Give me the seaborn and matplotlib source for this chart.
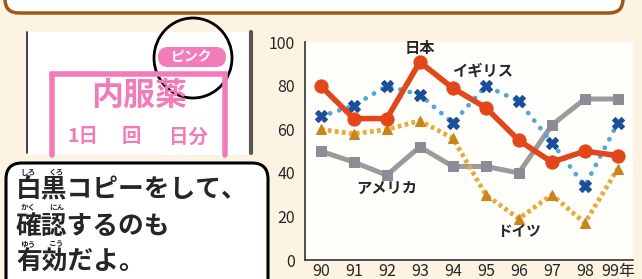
import pandas as pd
import matplotlib.pyplot as plt
import matplotlib.patches as patches
import seaborn as sns

# ==========================================================
# DATA
# ==========================================================
years = [90, 91, 92, 93, 94, 95, 96, 97, 98, 99]
year_labels = ["90", "91", "92", "93", "94", "95", "96", "97", "98", "99年"]

japan = [80, 65, 65, 91, 79, 70, 55, 45, 50, 48]
uk = [66, 71, 80, 76, 63, 80, 73, 54, 34, 63]
germany = [60, 58, 60, 64, 56, 30, 19, 30, 17, 42]
usa = [50, 45, 39, 52, 43, 43, 40, 62, 74, 74]

y_ticks = [0, 20, 40, 60, 80, 100]

df = pd.DataFrame({
    "year": years * 4,
    "value": japan + uk + germany + usa,
    "country": ["日本"] * 10 + ["イギリス"] * 10 + ["ドイツ"] * 10 + ["アメリカ"] * 10,
})

# ==========================================================
# STYLE
# ==========================================================
sns.set_style("white")
plt.rcParams["font.family"] = ["Noto Sans CJK JP", "DejaVu Sans"]

cream = "#fcf3e3"
pink = "#f27cb9"

fig = plt.figure(figsize=(6.42, 2.79), dpi=100, facecolor=cream)

# ==========================================================
# LEFT ILLUSTRATION (pixel coordinates)
# ==========================================================
bg = fig.add_axes([0, 0, 1, 1])
bg.set_xlim(0, 642)
bg.set_ylim(279, 0)
bg.axis("off")

# top banner (cut off)
bg.add_patch(patches.FancyBboxPatch((5, -40), 618, 53,
                                    boxstyle="round,pad=0,rounding_size=14",
                                    fc="white", ec="#a3560f", lw=2.5))

# medicine bag
bg.add_patch(patches.Rectangle((27, 32), 225, 123, fc="white", ec="none"))
bg.plot([27, 27], [32, 153], color="#222222", lw=1.2)
bg.plot([251, 251], [32, 153], color="#555555", lw=3)
bg.plot([52, 52, 225, 225], [155, 74, 74, 155], color=pink, lw=4,
        solid_joinstyle="miter")
bg.text(139, 96, "内服薬", color=pink, fontsize=23, fontweight="bold",
        ha="center", va="center")
bg.text(83, 137, "1日", color=pink, fontsize=14, fontweight="bold",
        ha="center", va="center")
bg.text(131, 137, "回", color=pink, fontsize=14, fontweight="bold",
        ha="center", va="center")
bg.text(188, 137, "日分", color=pink, fontsize=14, fontweight="bold",
        ha="center", va="center")
bg.add_patch(patches.FancyBboxPatch((158, 47), 68, 20,
                                    boxstyle="round,pad=0,rounding_size=10",
                                    fc=pink, ec="none"))
bg.text(192, 57, "ピンク", color="white", fontsize=10, fontweight="bold",
        ha="center", va="center")
bg.add_patch(patches.Ellipse((193, 58), 78, 80, fill=False, ec="black", lw=2))

# speech bubble
bg.add_patch(patches.FancyBboxPatch((6, 163), 262, 140,
                                    boxstyle="round,pad=0,rounding_size=16",
                                    fc="white", ec="black", lw=2.2))
lines = [("白黒コピーをして、", 190), ("確認するのも", 226), ("有効だよ。", 261)]
for txt, y in lines:
    bg.text(16, y, txt, fontsize=18.5, fontweight="bold", ha="left", va="center")
ruby = [("しろ", 28, 172), ("くろ", 56, 172), ("かく", 28, 208), ("にん", 57, 208),
        ("ゆう", 28, 244), ("こう", 57, 244)]
for txt, x, y in ruby:
    bg.text(x, y, txt, fontsize=5.5, fontweight="bold", ha="center", va="center")

# ==========================================================
# LINE CHART
# ==========================================================
ax = fig.add_axes([0.475, 0.068, 0.511, 0.780])
ax.set_facecolor("#fffefb")

styles = {
    "アメリカ": dict(color="#9b9b9d", ls="-", lw=3.6, marker="s", ms=7,
                   mfc="#8c8c96", mec="#8c8c96", cap="butt"),
    "ドイツ": dict(color="#e9aa3c", ls=(0, (0.8, 0.7)), lw=3.4, marker="^", ms=7.5,
                 mfc="#c9841c", mec="#c9841c", cap="butt"),
    "イギリス": dict(color="#4fa9d6", ls=(0, (0.05, 2.0)), lw=3.4, marker="X", ms=8,
                   mfc="#1d4f98", mec="#1d4f98", cap="round"),
    "日本": dict(color="#e2471b", ls="-", lw=4.0, marker="o", ms=9.5,
               mfc="#e2471b", mec="#e2471b", cap="round"),
}

for country, st in styles.items():
    sub = df[df["country"] == country]
    sns.lineplot(data=sub, x="year", y="value", ax=ax, color=st["color"],
                 linestyle=st["ls"], linewidth=st["lw"], marker=st["marker"],
                 markersize=st["ms"], markerfacecolor=st["mfc"],
                 markeredgecolor=st["mec"], dash_capstyle=st["cap"],
                 legend=False)

ax.set_xlim(89.52, 99.46)
ax.set_ylim(0, 100)
ax.set_xticks(years)
ax.set_xticklabels(year_labels)
ax.set_yticks(y_ticks)
ax.set_xlabel("")
ax.set_ylabel("")
ax.tick_params(axis="x", direction="in", length=4, width=1, color="#555555",
               labelsize=11.5, pad=2)
ax.tick_params(axis="y", direction="out", length=5, width=1, color="#333333",
               labelsize=11.5, pad=2)
for side in ["top", "right"]:
    ax.spines[side].set_visible(False)
for side in ["left", "bottom"]:
    ax.spines[side].set_color("#333333")
    ax.spines[side].set_linewidth(1.2)

# series labels
ax.text(93.0, 97.5, "日本", fontsize=11, fontweight="bold",
        ha="center", va="center", clip_on=False)
ax.text(94.9, 86.8, "イギリス", fontsize=11, fontweight="bold",
        ha="center", va="center")
ax.text(92.0, 33, "アメリカ", fontsize=11, fontweight="bold",
        ha="center", va="center")
ax.text(96.0, 13.2, "ドイツ", fontsize=10.5, fontweight="bold",
        ha="center", va="center")

fig.savefig("out.png", dpi=100, facecolor=cream)
